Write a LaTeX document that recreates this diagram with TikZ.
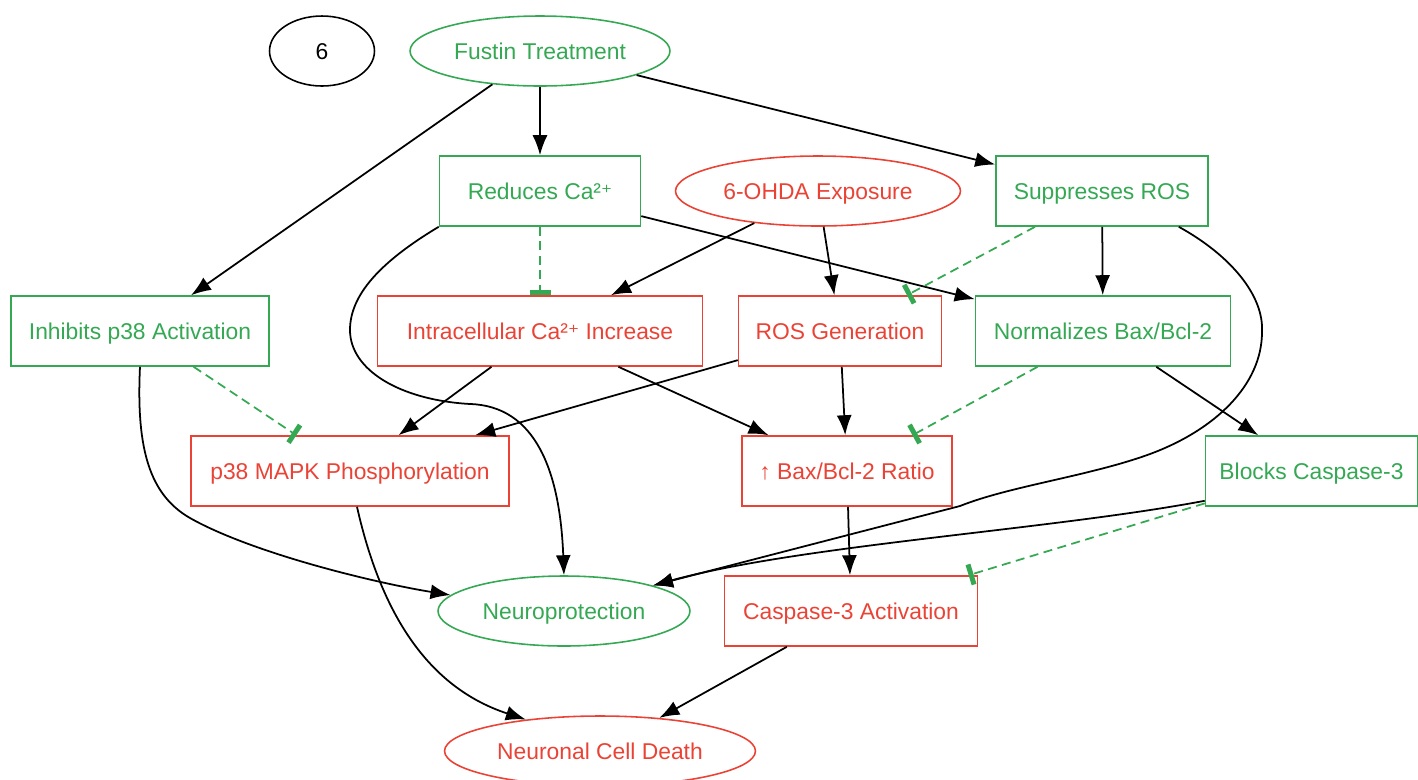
\documentclass[tikz,border=0pt]{standalone}
\usepackage{fontspec}
\setmainfont{Liberation Sans}
\newfontfamily\plusfont[Scale=0.92]{DejaVu Sans}
\newcommand{\supplus}{{\plusfont ⁺}}
\usetikzlibrary{positioning}
\usetikzlibrary{calc}
\usetikzlibrary{arrows.meta,shapes}

\definecolor{fgreen}{HTML}{34A853}
\definecolor{fred}{HTML}{EA4335}

\begin{document}
\begin{tikzpicture}[x=0.02cm,y=-0.02cm,
  font=\fontsize{13}{15}\selectfont,
  nodebase/.style={inner sep=0pt,minimum height=1.4cm,line width=0.9pt,text height=9.3pt,text depth=0pt},
  protbox/.style={nodebase,rectangle,draw=fgreen,text=fgreen},
  harmbox/.style={nodebase,rectangle,draw=fred,text=fred},
  protell/.style={nodebase,ellipse,draw=fgreen,text=fgreen},
  harmell/.style={nodebase,ellipse,draw=fred,text=fred},
  act/.style={-{Latex[length=0.4cm,width=0.3cm]},line width=1pt},
  inhib/.style={-{Bar[width=0.42cm,line width=0.1cm]},fgreen,line width=1pt,dash pattern=on 0.18cm off 0.11cm}]
\useasboundingbox (0,0) rectangle (1418,779);

\node[nodebase,ellipse,draw,minimum width=2.1cm](six) at (322,51){6};
\node[protell,minimum width=5.2cm](fustin) at (540,51){Fustin Treatment};
\node[protbox,minimum width=4.02cm](reducesCa) at (540,191){Reduces Ca²\supplus};
\node[harmell,minimum width=5.7cm](ohda) at (818,191){6-OHDA Exposure};
\node[protbox,minimum width=4.24cm](suppROS) at (1102,191){Suppresses ROS};
\node[protbox,minimum width=5.16cm](inhibP38) at (140,331){Inhibits p38 Activation};
\node[harmbox,minimum width=6.5cm](intraCa) at (540,331){Intracellular Ca²\supplus{} Increase};
\node[harmbox,minimum width=4.06cm](rosGen) at (840,331){ROS Generation};
\node[protbox,minimum width=5.1cm](normBax) at (1103,331){Normalizes Bax/Bcl-2};
\node[harmbox,minimum width=6.36cm](p38mapk) at (350,471){p38 MAPK Phosphorylation};
\node[harmbox,minimum width=4.2cm](baxRatio) at (847,471){↑ Bax/Bcl-2 Ratio};
\node[protbox,minimum width=4.24cm](blocksCasp) at (1311.5,471){Blocks Caspase-3};
\node[protell,minimum width=5.04cm](neuroprot) at (564,611){Neuroprotection};
\node[harmbox,minimum width=5.06cm](casp3) at (851,611){Caspase-3 Activation};
\node[harmell,minimum width=6.22cm](cellDeath) at (600,751){Neuronal Cell Death};

\path
(fustin) edge[act] (reducesCa)
(fustin) edge[act] (inhibP38)
(fustin) edge[act] (suppROS)
(reducesCa) edge[inhib] (intraCa)
(reducesCa) edge[act] (normBax)
(ohda) edge[act] (intraCa)
(ohda) edge[act] (rosGen)
(suppROS) edge[inhib] (rosGen)
(suppROS) edge[act] (normBax)
(inhibP38) edge[inhib] (p38mapk)
(intraCa) edge[act] (p38mapk)
(intraCa) edge[act] (baxRatio)
(rosGen) edge[act] (p38mapk)
(rosGen) edge[act] (baxRatio)
(normBax) edge[inhib] (baxRatio)
(normBax) edge[act] (blocksCasp)
(baxRatio) edge[act] (casp3)
(blocksCasp) edge[inhib] (casp3)
(casp3) edge[act] (cellDeath);

% curved links into the outcome nodes
\draw[act] (reducesCa.south west) .. controls (380,262) and (350,295) .. (350,330)
  .. controls (350,370) and (400,400) .. (470,404)
  .. controls (535,406) and (560,470) .. (neuroprot.north);
\draw[act] ($(suppROS.south east)+(-30,0)$) .. controls (1230,255) and (1264,295) .. (1262,332)
  .. controls (1262,385) and (1215,430) .. (1150,454)
  .. controls (1090,476) and (1010,486) .. (960,506) -- (neuroprot.16);
\draw[act] (inhibP38.south) .. controls (136,450) and (150,495) .. (190,518)
  .. controls (250,552) and (370,582) .. (neuroprot.172);
\draw[act] ($(blocksCasp.south west)+(0,-6)$) .. controls (1050,530) and (800,545) .. (neuroprot.16);
\draw[act] ($(p38mapk.south)+(7,0)$) .. controls (378,600) and (420,685) .. (cellDeath.157);
\end{tikzpicture}
\end{document}
